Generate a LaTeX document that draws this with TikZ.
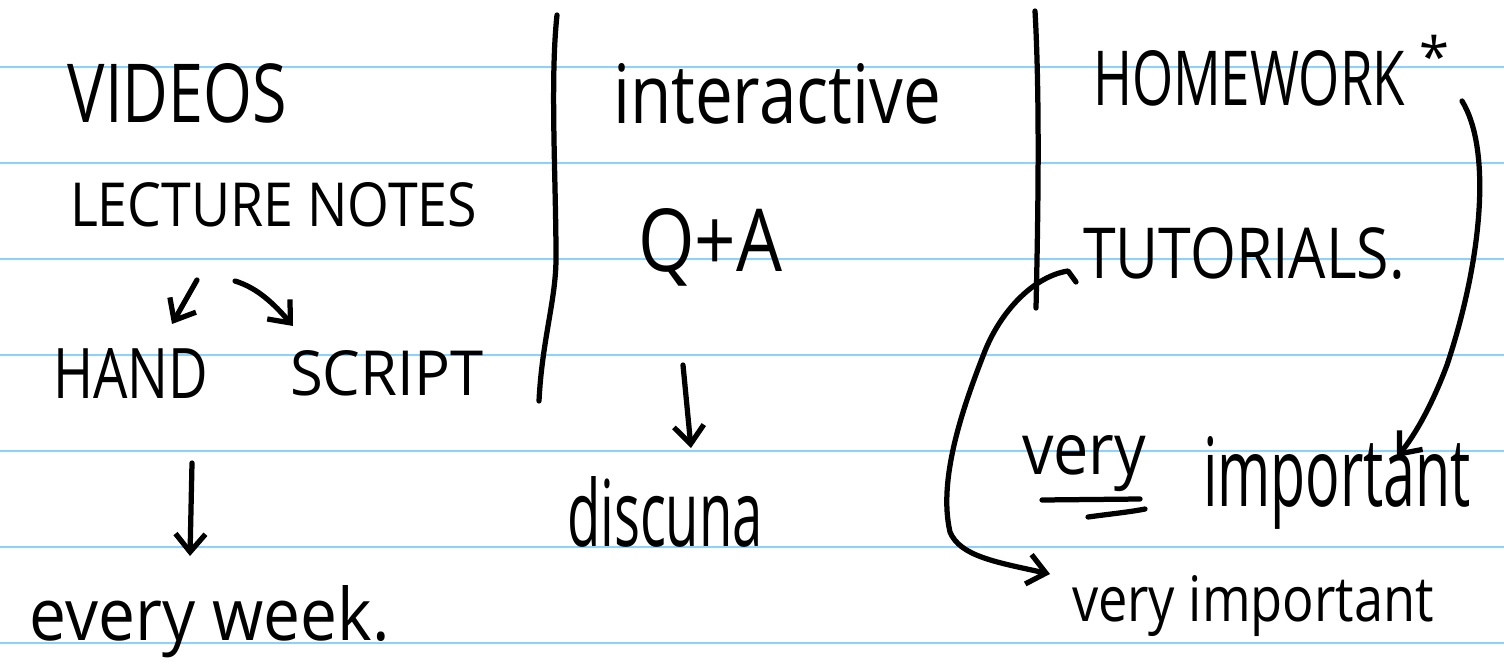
\documentclass[tikz,border=0pt]{standalone}
\usepackage{fontspec}
\setmainfont{Open Sans}
\usetikzlibrary{arrows.meta}
% one drawing unit
\newlength\px
\setlength\px{0.02cm}
% set a text to a given width and height (in drawing units)
\newcommand\fitto[3]{\resizebox{#1\px}{#2\px}{#3}}
\definecolor{ruleblue}{HTML}{8CD2FF}
\begin{document}
\begin{tikzpicture}[x=0.02cm,y=-0.02cm,
  ink/.style={line width=0.105cm, line cap=round, line join=round, black},
  arr/.style={ink, -{Straight Barb[length=0.36cm,width=0.6cm]}},
  ruling/.style={line width=1.6\px, ruleblue},
  lbl/.style={inner sep=0pt, outer sep=0pt, anchor=base west, black}]

\useasboundingbox (0,0) rectangle (1504,669);
\fill[white] (0,0) rectangle (1504,669);

% ruled paper
\foreach \y in {67,163,259,355,451,547,643}
  \draw[ruling] (0,\y) -- (1504,\y);

% ---------- left column ----------
\node[lbl] (videos) at (68,123) {\fitto{219}{59}{VIDEOS}};
\node[lbl] (notes)  at (70,226) {\fitto{407}{44}{LECTURE NOTES}};
\node[lbl] (hand)   at (53,398) {\fitto{155}{50}{HAND}};
\node[lbl] (script) at (290,395) {\fitto{193}{45}{SCRIPT}};
\node[lbl] (weekly) at (30,640) {\fitto{360}{55}{every week.}};

\coordinate (n1a) at (197,280);
\coordinate (n1b) at (172,324);
\coordinate (n2a) at (235,281);
\coordinate (n2b) at (293,326);
\coordinate (h1a) at (192,463);
\coordinate (h1b) at (190,556);

\draw[arr] (n1a) -- (n1b);
\draw[arr] (n2a) .. controls (258,288) and (275,305) .. (n2b);
\draw[arr] (h1a) -- (h1b);

% divider
\coordinate (d1a) at (557,15);
\coordinate (d1b) at (539,401);
\draw[ink] (d1a) .. controls (550,80) and (556,180) .. (556,258)
  .. controls (556,300) and (542,340) .. (d1b);

% ---------- middle column ----------
\node[lbl] (inter)  at (613,124) {\fitto{328}{60}{interactive}};
\node[lbl] (qa)     at (638,271) {\fitto{144}{63}{Q+A}};
\node[lbl] (disc)   at (567,546) {\fitto{196}{70}{discuna}};

\coordinate (q1a) at (683,365);
\coordinate (q1b) at (691,448);
\draw[arr] (q1a) -- (q1b);

% divider
\coordinate (d2a) at (1035,11);
\coordinate (d2b) at (1036,308);
\draw[ink] (d2a) .. controls (1040,100) and (1038,220) .. (d2b);

% ---------- right column ----------
\node[lbl] (hw)     at (1093,106) {\fitto{312}{55}{HOMEWORK}};
\node[inner sep=0pt, anchor=north, black] (star) at (1434,35) {\resizebox{30\px}{!}{*}};
\node[lbl] (tut)    at (1083,278) {\fitto{322}{51}{TUTORIALS.}};
\node[lbl] (very)   at (1022,474) {\fitto{124}{39}{very}};
\node[lbl] (imp)    at (1203,506) {\fitto{268}{70}{important}};
\node[lbl] (vimp)   at (1072,621) {\fitto{362}{46}{very important}};

% double underline under "very"
\draw[ink] (1042,500) -- (1140,499);
\draw[ink] (1088,517) .. controls (1110,514) and (1130,512) .. (1145,509);

% HOMEWORK -> very important
\coordinate (hwa) at (1462,101);
\coordinate (hwb) at (1397,457);
\draw[arr] (hwa) .. controls (1492,150) and (1482,260) .. (1447,365)
  .. controls (1432,405) and (1415,435) .. (hwb);

% TUTORIALS -> very important
\coordinate (tua) at (1076,282);
\coordinate (tuk) at (1068,271);
\coordinate (tub) at (1050,574);
\draw[arr] (tua) -- (tuk) .. controls (1035,276) and (1000,310) .. (983,356)
  .. controls (962,410) and (938,480) .. (950,532)
  .. controls (960,556) and (995,562) .. (tub);

\end{tikzpicture}
\end{document}
